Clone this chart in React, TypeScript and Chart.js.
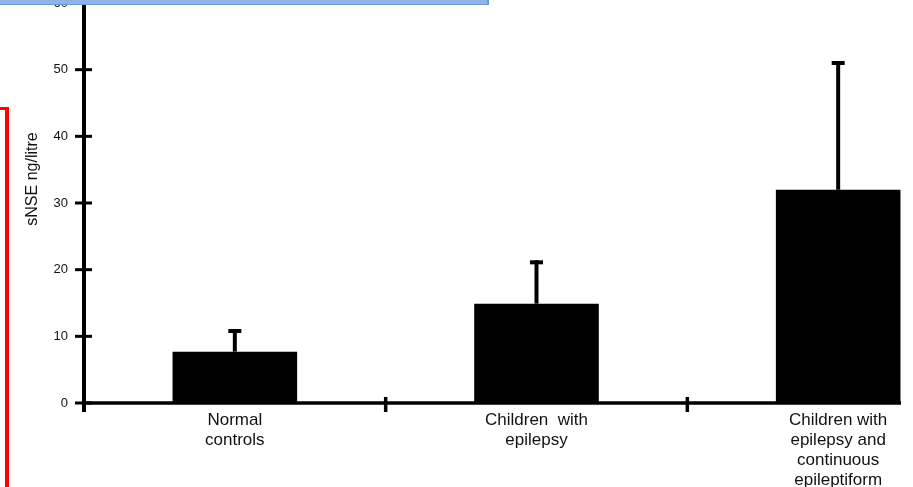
import React, { useEffect, useRef } from "react";
import { Chart, registerables } from "chart.js";

Chart.register(...registerables);

const categories: string[][] = [
  ["Normal", "controls"],
  ["Children  with", "epilepsy"],
  ["Children with", "epilepsy and", "continuous", "epileptiform"],
];
const meanValues: number[] = [7.7, 14.9, 32.0];
const upperErrorValues: number[] = [10.8, 21.1, 51.0];
const yAxisTitle = "sNSE ng/litre";
const yMin = 0;
const yMax = 60;
const yStep = 10;

const FONT = "'Liberation Sans', Arial, sans-serif";

const axesPlugin = {
  id: "sciAxes",
  afterDatasetsDraw(chart: any) {
    const { ctx, chartArea, scales } = chart;
    const { left, right, bottom } = chartArea;
    const yScale = scales.y;
    const meta = chart.getDatasetMeta(0);

    ctx.save();
    ctx.strokeStyle = "#000";
    ctx.lineCap = "butt";

    // error bars (upper only)
    ctx.lineWidth = 4;
    meta.data.forEach((bar: any, i: number) => {
      const x = bar.x;
      const yTop = bar.y;
      const yErr = yScale.getPixelForValue(upperErrorValues[i]);
      ctx.beginPath();
      ctx.moveTo(x, yTop);
      ctx.lineTo(x, yErr - 2);
      ctx.stroke();
      ctx.beginPath();
      ctx.moveTo(x - 6.5, yErr);
      ctx.lineTo(x + 6.5, yErr);
      ctx.stroke();
    });

    // y axis line
    ctx.lineWidth = 4;
    ctx.beginPath();
    ctx.moveTo(left, 0);
    ctx.lineTo(left, bottom + 9);
    ctx.stroke();

    // x axis line
    ctx.lineWidth = 3.5;
    ctx.beginPath();
    ctx.moveTo(left, bottom);
    ctx.lineTo(right, bottom);
    ctx.stroke();

    // y ticks (crossing)
    ctx.lineWidth = 3;
    for (let v = yMin; v <= yMax; v += yStep) {
      const y = yScale.getPixelForValue(v);
      ctx.beginPath();
      ctx.moveTo(left - 9, y);
      ctx.lineTo(left + 8, y);
      ctx.stroke();
    }

    // x ticks at category boundaries (crossing)
    const n = categories.length;
    ctx.lineWidth = 3.5;
    for (let i = 1; i < n; i++) {
      const x = left + ((right - left) * i) / n;
      ctx.beginPath();
      ctx.moveTo(x, bottom - 6);
      ctx.lineTo(x, bottom + 9);
      ctx.stroke();
    }

    // y axis title
    ctx.fillStyle = "#111";
    ctx.font = `16px ${FONT}`;
    ctx.textAlign = "center";
    ctx.textBaseline = "middle";
    ctx.translate(33, 179);
    ctx.rotate(-Math.PI / 2);
    ctx.fillText(yAxisTitle, 0, 0);
    ctx.restore();
  },
};

export default function App() {
  const canvasRef = useRef<HTMLCanvasElement | null>(null);

  useEffect(() => {
    const canvas = canvasRef.current;
    if (!canvas) return;
    const chart = new Chart(canvas, {
      type: "bar",
      data: {
        labels: categories,
        datasets: [
          {
            data: meanValues,
            backgroundColor: "#000",
            borderWidth: 0,
            barPercentage: 0.413,
            categoryPercentage: 1,
          },
        ],
      },
      options: {
        responsive: false,
        animation: false,
        events: [],
        layout: { autoPadding: false, padding: { top: 3, left: 0, right: 1, bottom: 0 } },
        plugins: {
          legend: { display: false },
          tooltip: { enabled: false },
          title: { display: false },
        },
        scales: {
          x: {
            offset: true,
            grid: { display: false, drawTicks: false },
            border: { display: false },
            ticks: {
              color: "#111",
              font: { family: FONT, size: 17, lineHeight: 20 / 17 },
              padding: 7,
              maxRotation: 0,
              autoSkip: false,
            },
            afterFit: (scale: any) => {
              scale.height = 84;
              scale.paddingLeft = 0;
              scale.paddingRight = 0;
              scale.paddingTop = 0;
              scale.paddingBottom = 0;
            },
          },
          y: {
            min: yMin,
            max: yMax,
            grid: { display: false, drawTicks: false },
            border: { display: false },
            ticks: {
              stepSize: yStep,
              color: "#111",
              font: { family: FONT, size: 13 },
              padding: 16,
            },
            afterFit: (scale: any) => {
              scale.width = 84;
              scale.paddingLeft = 0;
              scale.paddingRight = 0;
              scale.paddingTop = 0;
              scale.paddingBottom = 0;
            },
          },
        },
      },
      plugins: [axesPlugin],
    });
    return () => chart.destroy();
  }, []);

  return (
    <div style={{ position: "fixed", left: 0, top: 0, width: 913, height: 487, background: "#fff", overflow: "hidden" }}>
      <div style={{ position: "absolute", left: 0, top: 0, width: 901, height: 487, overflow: "hidden" }}>
        <canvas ref={canvasRef} width={990} height={487} style={{ display: "block", width: 990, height: 487 }} />
      </div>
      <div
        style={{
          position: "absolute",
          left: 0,
          top: 0,
          width: 489,
          height: 5,
          boxSizing: "border-box",
          background: "#8eb4e3",
          borderRight: "2px solid #6a9be0",
          borderBottom: "1px solid #6a9be0",
        }}
      />
      <div style={{ position: "absolute", left: 5, top: 107, width: 4, height: 380, background: "#ff0000" }} />
      <div style={{ position: "absolute", left: 0, top: 107, width: 9, height: 3, background: "#ff0000" }} />
    </div>
  );
}
